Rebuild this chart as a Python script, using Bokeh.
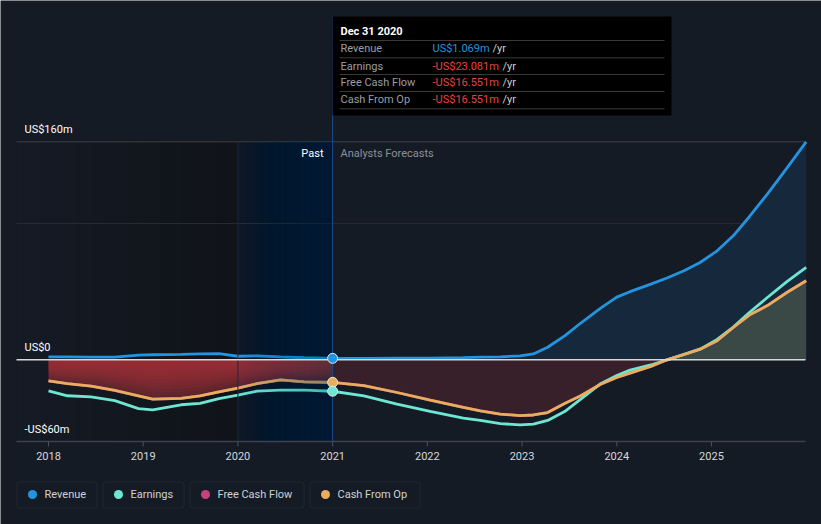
import numpy as np
from bokeh.plotting import figure
from bokeh.models import Range1d, Label, BoxAnnotation
from bokeh.embed import file_html
from bokeh.resources import INLINE

# ---------------- data (US$ millions, x in fractional years) ----------------
past_x = [2018.0, 2018.2, 2018.45, 2018.7, 2018.95, 2019.1, 2019.4, 2019.6,
          2019.8, 2020.0, 2020.2, 2020.45, 2020.7, 2021.0]
past_revenue = [2.2, 2.1, 2.0, 2.0, 3.4, 3.7, 4.0, 4.4, 4.5, 2.6, 2.9, 2.1, 1.5, 1.069]
past_earnings = [-22.8, -26.4, -27.2, -30.0, -35.8, -36.7, -33.0, -32.0, -28.5,
                 -26.0, -23.0, -22.3, -22.3, -23.081]
past_fcf = [-15.4, -17.5, -19.3, -22.5, -26.5, -28.9, -28.3, -26.5, -23.5,
            -20.8, -17.5, -14.7, -16.2, -16.551]
past_cfo = [-15.4, -17.5, -19.3, -22.5, -26.5, -28.9, -28.3, -26.5, -23.5,
            -20.8, -17.5, -14.7, -16.2, -16.551]

fc_x = [2021.0, 2021.33, 2021.68, 2022.03, 2022.38, 2022.56, 2022.77, 2022.98,
        2023.12, 2023.27, 2023.45, 2023.62, 2023.83, 2024.0, 2024.14, 2024.36,
        2024.53, 2024.71, 2024.88, 2025.06, 2025.23, 2025.4, 2025.59, 2025.8, 2026.0]
fc_revenue = [1.069, 1.1, 1.2, 1.3, 1.6, 1.9, 2.2, 2.9, 4.3, 9.2, 17.5, 27.0,
              37.9, 46.0, 50.0, 55.5, 60.0, 65.3, 71.4, 80.0, 91.0, 105.0, 121.6,
              141.0, 160.0]
fc_earnings = [-23.081, -26.4, -32.5, -37.9, -42.8, -44.5, -46.8, -47.8, -47.2,
               -44.5, -38.0, -28.9, -17.5, -11.5, -7.6, -3.8, 0.0, 4.0, 7.8, 15.0,
               24.0, 34.7, 45.7, 57.5, 67.8]
fc_fcf = [-16.551, -19.0, -24.0, -29.6, -35.0, -37.5, -39.9, -40.9, -40.5, -38.7,
          -32.0, -26.4, -18.0, -13.0, -9.8, -4.8, 0.0, 3.9, 7.8, 14.0, 23.7, 32.8,
          39.8, 49.6, 58.0]
fc_cfo = [-16.551, -19.0, -24.0, -29.6, -35.0, -37.5, -39.9, -40.9, -40.5, -38.7,
          -32.0, -26.4, -18.0, -13.0, -9.8, -4.8, 0.0, 3.9, 7.8, 14.0, 23.7, 32.8,
          39.8, 49.6, 58.0]

series_names = ["Revenue", "Earnings", "Free Cash Flow", "Cash From Op"]
series_colors = ["#2394df", "#6de7d3", "#c6427e", "#e8ad5d"]

year_ticks = [2018, 2019, 2020, 2021, 2022, 2023, 2024, 2025]
y_label_values = [160, 0, -60]
y_label_texts = ["US$160m", "US$0", "-US$60m"]
grid_values = [160, 100]
axis_bottom_value = -60

tooltip_title = "Dec 31 2020"

# ---------------- layout helpers (pixel -> data) ----------------
PX_YR = 94.71
PX_M = 1.3625
ZERO_PY = 359.3


def X(px):
    return 2018 + (px - 48) / PX_YR


def Y(py):
    return (ZERO_PY - py) / PX_M


def hexc(c):
    return "#%02x%02x%02x" % tuple(int(round(v)) for v in c)


BG = "#151b25"
FONT = "Roboto"

p = figure(width=821, height=524, output_backend="svg", toolbar_location=None,
           x_axis_type=None, y_axis_type=None,
           x_range=Range1d(X(0), X(821)), y_range=Range1d(Y(524), Y(0)),
           min_border=0, min_border_left=0, min_border_right=0,
           min_border_top=0, min_border_bottom=0)
p.background_fill_color = BG
p.border_fill_color = BG
p.outline_line_color = None
p.grid.visible = False

plot_left, plot_right = X(16), X(805)
top_v, bot_v = grid_values[0], axis_bottom_value

# dark "past" gradient region (left edge -> 2020): nested opaque quads (no seams)
n = 60
starts = np.linspace(plot_left, 2020.0, n + 1)[:-1]
c0 = np.array([21, 27, 37]); c1 = np.array([16, 19, 24])
cols = [hexc(c0 * (1 - (i + 0.5) / n) + c1 * ((i + 0.5) / n)) for i in range(n)]
p.quad(left=starts, right=[2020.0] * n, top=top_v, bottom=bot_v,
       fill_color=cols, line_color=None)
# 2020-2021 base under the blue overlay
nb = 40
bstarts = np.linspace(2020.0, 2021.0, nb + 1)[:-1]
b0 = np.array([14, 21, 33]); b1 = np.array([7, 22, 48])
bcols = [hexc(b0 * (1 - (i + 0.5) / nb) + b1 * ((i + 0.5) / nb)) for i in range(nb)]
p.quad(left=bstarts, right=[2021.0] * nb, top=top_v, bottom=bot_v,
       fill_color=bcols, line_color=None)

# gridlines
p.segment(x0=[plot_left] * len(grid_values), x1=[plot_right] * len(grid_values),
          y0=grid_values, y1=grid_values,
          line_color=["#3c414b", "#272c35"], line_width=1)

# forecast fills
fx = np.array(fc_x)
fcfo = np.array(fc_cfo)
p.varea(x=fx, y1=0, y2=np.array(fc_revenue), fill_color="#16283b")
p.varea(x=fx, y1=0, y2=np.minimum(fcfo, 0), fill_color="#37202a")
p.varea(x=fx, y1=0, y2=np.maximum(fcfo, 0), fill_color="#3a4946")

# past red gradient fill (brighter near zero)
px_ = np.array(past_x)
pcfo = np.array(past_cfo)
p.varea(x=px_, y1=0, y2=pcfo, fill_color="#a8353a", fill_alpha=0.48)
for k in np.arange(11, 0, -1) / 12.0:
    p.varea(x=px_, y1=0, y2=pcfo * k, fill_color="#a8353a", fill_alpha=0.139)

# lines
past_series = [past_revenue, past_earnings, past_fcf, past_cfo]
fc_series = [fc_revenue, fc_earnings, fc_fcf, fc_cfo]
for order in [2, 0, 1, 3]:
    col = series_colors[order]
    p.line(past_x, past_series[order], line_color=col, line_width=2.8)
    p.line(fc_x, fc_series[order], line_color=col, line_width=2.8)

# blue band overlay 2020 -> 2021: nested translucent quads -> smooth ramp
p.quad(left=[2020.0], right=[2021.0], top=top_v, bottom=bot_v,
       fill_color="#2a4ca8", fill_alpha=0.04, line_color=None)
p.quad(left=bstarts[1:], right=[2021.0] * (nb - 1), top=top_v, bottom=bot_v,
       fill_color="#2a4ca8", fill_alpha=0.0065, line_color=None)
p.segment(x0=[2020.0], x1=[2020.0], y0=[top_v], y1=[bot_v],
          line_color="#1c2a40", line_width=1)

# zero line and bottom axis line
p.segment(x0=[plot_left], x1=[plot_right], y0=[0], y1=[0],
          line_color="#d8d8d8", line_width=1.5)
p.segment(x0=[plot_left], x1=[plot_right], y0=[bot_v], y1=[bot_v],
          line_color="#3c414b", line_width=1.5)
p.segment(x0=year_ticks, x1=year_ticks, y0=[bot_v] * len(year_ticks),
          y1=[Y(446)] * len(year_ticks), line_color="#4a505a", line_width=1)

# vertical "now" line
p.segment(x0=[2021.0], x1=[2021.0], y0=[bot_v], y1=[Y(16)],
          line_color="#1d4f8f", line_width=1)

# markers at the current date
for order in [0, 3, 1]:
    p.scatter([past_x[-1]], [past_series[order][-1]], size=10,
              fill_color=series_colors[order], line_color="#e6e6e6", line_width=1)

# y labels
for v, t in zip(y_label_values, y_label_texts):
    p.add_layout(Label(x=X(24), y=v + 12 / PX_M, text=t, text_baseline="middle",
                       text_font=FONT, text_font_size="11px", text_color="#ffffff"))

# x tick labels
for yr in year_ticks:
    p.add_layout(Label(x=yr, y=Y(455), text=str(yr), text_align="center",
                       text_baseline="middle", text_font=FONT,
                       text_font_size="11px", text_color="#d6d8dc"))

# Past / forecast labels
p.add_layout(Label(x=X(323), y=Y(153), text="Past", text_align="right",
                   text_baseline="middle", text_font=FONT, text_font_size="11px",
                   text_color="#ffffff"))
p.add_layout(Label(x=X(340), y=Y(153), text="Analysts Forecasts", text_align="left",
                   text_baseline="middle", text_font=FONT, text_font_size="11px",
                   text_color="#8b9099"))

# tooltip box
p.quad(left=[X(332)], right=[X(671)], top=[Y(16)], bottom=[Y(115)],
       fill_color="#000000", line_color=None)
sep_py = [40, 57.3, 74, 91, 108.3]
p.segment(x0=[X(339)] * 5, x1=[X(664)] * 5, y0=[Y(s) for s in sep_py],
          y1=[Y(s) for s in sep_py], line_color="#3a3a3a", line_width=1)
p.add_layout(Label(x=X(340), y=Y(31), text=tooltip_title, text_baseline="middle",
                   text_font=FONT, text_font_size="11px", text_color="#ffffff",
                   text_font_style="bold"))
row_py = [48.3, 65.7, 82.3, 99]
vals = [past_revenue[-1], past_earnings[-1], past_fcf[-1], past_cfo[-1]]
for name, v, py in zip(series_names, vals, row_py):
    p.add_layout(Label(x=X(340), y=Y(py), text=name, text_baseline="middle",
                       text_font=FONT, text_font_size="11px", text_color="#9a9ea4"))
    vt = ("US$%.3fm" % v) if v >= 0 else ("-US$%.3fm" % (-v))
    vc = "#2394df" if v >= 0 else "#ea4141"
    p.add_layout(Label(x=X(432), y=Y(py), text=vt, text_baseline="middle",
                       text_font=FONT, text_font_size="11px", text_color=vc))
    p.add_layout(Label(x=X(492 if v >= 0 else 502), y=Y(py), text="/yr",
                       text_baseline="middle", text_font=FONT,
                       text_font_size="11px", text_color="#d0d0d0"))

# legend (manual boxes)
box_px = [(16.5, 96.5), (102.5, 183.5), (189.5, 303.5), (309.5, 419.5)]
dot_px = [32, 118, 205, 325]
txt_px = [44, 130, 217, 337]
for name, col, (l, r), d, tx in zip(series_names, series_colors, box_px, dot_px, txt_px):
    p.add_layout(BoxAnnotation(left=X(l), right=X(r), top=Y(481.5), bottom=Y(507.5),
                               fill_alpha=0, line_color="#3d434e", line_width=1,
                               border_radius=3))
    p.scatter([X(d)], [Y(494)], size=9, fill_color=col, line_color=None)
    p.add_layout(Label(x=X(tx), y=Y(494), text=name, text_baseline="middle",
                       text_font=FONT, text_font_size="11px", text_color="#cfd2d6"))

open("out.html", "w").write(file_html(p, INLINE))
